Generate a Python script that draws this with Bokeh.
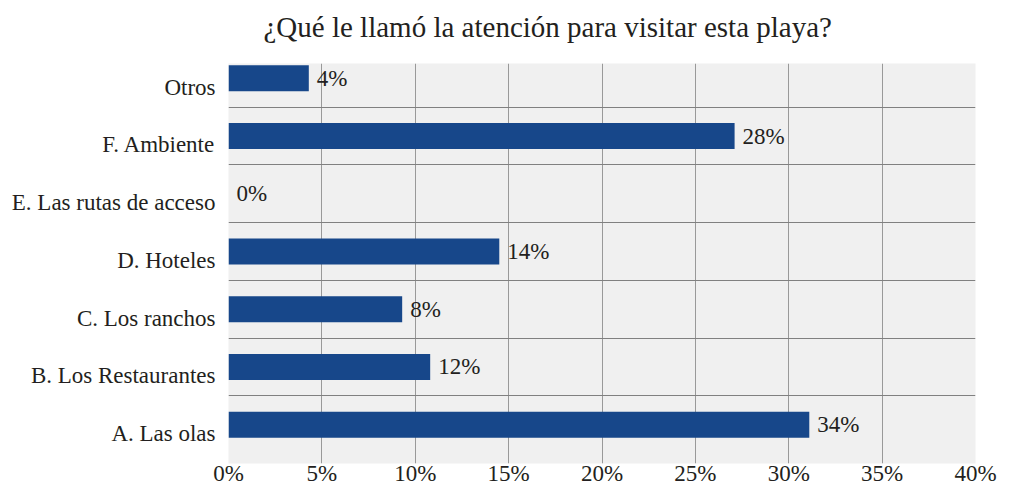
from bokeh.plotting import figure
from bokeh.models import Range1d, FixedTicker, ColumnDataSource, Title
from bokeh.embed import file_html
from bokeh.resources import INLINE
from bokeh.core.properties import value

# ---- data ----
title_text = "¿Qué le llamó la atención para visitar esta playa?"
categories = ["A. Las olas", "B. Los Restaurantes", "C. Los ranchos", "D. Hoteles",
              "E. Las rutas de acceso", "F. Ambiente", "Otros"]
bar_values = [31.1, 10.8, 9.3, 14.5, 0.0, 27.1, 4.3]
bar_labels = ["34%", "12%", "8%", "14%", "0%", "28%", "4%"]
x_ticks = [0, 5, 10, 15, 20, 25, 30, 35, 40]
x_tick_labels = ["0%", "5%", "10%", "15%", "20%", "25%", "30%", "35%", "40%"]

positions = list(range(len(categories)))
# category labels sit a little below the bar centres in the reference
label_shift = 0.155
label_positions = [i - label_shift for i in positions]

FONT = "'Liberation Serif', 'Times New Roman', 'DejaVu Serif', serif"
TEXT = "#231f20"
BAR = "#17478a"

src = ColumnDataSource(dict(y=positions, v=bar_values, lab=bar_labels))

p = figure(width=1000, height=488, output_backend="svg", toolbar_location=None,
           x_range=Range1d(0, 40), y_range=Range1d(-0.673, 6.256),
           title=title_text)

p.hbar(y="y", left=0, right="v", height=0.45, source=src,
       fill_color=BAR, line_color=None)
p.text(x="v", y="y", text="lab", source=src, x_offset=8,
       text_baseline="middle", text_align="left",
       text_font=value(FONT), text_font_size="23px", text_color=TEXT)

p.background_fill_color = "#f0f0f0"
p.border_fill_color = "white"
p.outline_line_color = None

# x axis
p.xaxis.ticker = FixedTicker(ticks=x_ticks)
p.xaxis.major_label_overrides = {t: l for t, l in zip(x_ticks, x_tick_labels)}
p.xaxis.major_label_standoff = -3
# y axis
p.yaxis.ticker = FixedTicker(ticks=label_positions)
p.yaxis.major_label_overrides = {lp: c for lp, c in zip(label_positions, categories)}
p.yaxis.major_label_standoff = 13

for ax in (p.xaxis, p.yaxis):
    ax.axis_line_color = None
    ax.major_tick_line_color = None
    ax.minor_tick_line_color = None
    ax.major_tick_out = 0
    ax.major_tick_in = 0
    ax.minor_tick_out = 0
    ax.major_label_text_font = FONT
    ax.major_label_text_font_size = "23px"
    ax.major_label_text_color = TEXT

p.xgrid.ticker = FixedTicker(ticks=x_ticks)
p.xgrid.grid_line_color = "#999999"
p.xgrid.grid_line_width = 1
p.ygrid.ticker = FixedTicker(ticks=[i + 0.5 for i in positions[:-1]])
p.ygrid.grid_line_color = "#808080"
p.ygrid.grid_line_width = 1

# small empty spacer between the title and the plot area
spacer = Title(text=" ", text_font_size="1px", standoff=10)
p.add_layout(spacer, "above")

p.title.text_font = FONT
p.title.text_font_size = "29px"
p.title.text_font_style = "normal"
p.title.text_color = TEXT
p.title.align = "left"
p.title.offset = 35
p.title.standoff = 16

p.min_border_left = 228
p.min_border_right = 25
p.min_border_top = 62
p.min_border_bottom = 0

open("out.html", "w").write(file_html(p, INLINE))
